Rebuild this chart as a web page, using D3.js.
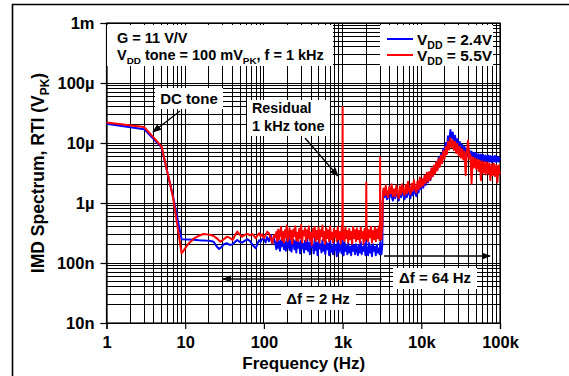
<!DOCTYPE html>
<html><head><meta charset="utf-8">
<script src="https://cdn.jsdelivr.net/npm/d3@7"></script>
<style>
html,body{margin:0;padding:0;background:#fff;}
svg text{font-family:"Liberation Sans",Arial,Helvetica,sans-serif;font-weight:bold;fill:#000;}
</style></head>
<body>
<svg id="c" width="569" height="376"></svg>
<script>
// ---------- DATA ----------
const xTickValues = [1, 10, 100, 1e3, 1e4, 1e5];
const xTickLabels = ["1", "10", "100", "1k", "10k", "100k"];
const yTickValues = [1e-8, 1e-7, 1e-6, 1e-5, 1e-4, 1e-3];
const yTickLabels = ["10n", "100n", "1µ", "10µ", "100µ", "1m"];
const seriesNames = ["2.4V", "5.5V"];
const seriesColors = ["#0000ff", "#ff0000"];

// low band (Hz, nV)
const lowFreqBlue = [1, 3, 5, 7, 9, 11, 13, 15, 17, 19, 21, 23, 25, 27, 29, 31, 34, 37, 40, 43, 46, 49, 53, 57, 62, 67, 72, 76, 79, 83, 87, 91, 95, 100, 105, 110, 116, 122, 128, 134];
const lowBlue_nV = [21000, 17000, 8500, 1300, 248, 246, 244, 240, 238, 236, 232, 226, 190, 171, 185, 205, 213, 200, 205, 225, 242, 225, 219, 235, 248, 230, 200, 185, 176, 210, 240, 226, 250, 258, 220, 270, 230, 293, 210, 260];
const lowFreqRed = [1, 3, 5, 7, 9, 11, 13, 15, 17, 19, 21, 23, 25, 28, 31, 34, 37, 40, 43, 46, 49, 53, 57, 62, 67, 71, 75, 79, 83, 87, 91, 95, 100, 105, 110, 116, 122, 128, 134];
const lowRed_nV = [22000, 18500, 8800, 1250, 145, 210, 258, 285, 304, 300, 292, 282, 260, 226, 250, 275, 262, 242, 290, 333, 300, 275, 295, 304, 290, 304, 280, 258, 290, 313, 280, 300, 258, 290, 330, 313, 260, 213, 290];

// mid band, 2 Hz resolution (Hz, nV)
const midFreqs = [140, 144, 148, 152, 156, 160, 165, 170, 175, 180,
  185, 190, 195, 200, 206, 212, 218, 224, 230, 237,
  244, 251, 258, 265, 273, 281, 289, 297, 306, 315,
  324, 333, 343, 353, 363, 373, 384, 395, 406, 418,
  430, 442, 455, 468, 481, 495, 509, 524, 539, 554,
  570, 586, 603, 620, 638, 656, 675, 694, 714, 734,
  755, 776, 798, 821, 844, 868, 893, 918, 944, 971,
  985, 995, 1000, 1005, 1015, 1030, 1060, 1090, 1120, 1150,
  1180, 1215, 1250, 1285, 1320, 1360, 1400, 1440, 1480, 1520,
  1565, 1610, 1655, 1700, 1750, 1800, 1850, 1900, 1950, 1985,
  2000, 2015, 2050, 2110, 2170, 2230, 2290, 2360, 2430, 2500,
  2570, 2640, 2720, 2800, 2880, 2950, 2985, 3000, 3015, 3060,
  3110, 3160, 3200];
const midBlue_nV = [210, 170, 250, 180, 230, 160, 240, 190, 270, 170,
  220, 160, 250, 180, 300, 165, 230, 155, 210, 245,
  170, 230, 150, 260, 180, 220, 145, 240, 175, 210,
  150, 235, 170, 280, 160, 215, 140, 230, 185, 200,
  145, 250, 165, 215, 135, 230, 175, 205, 150, 240,
  160, 195, 140, 225, 170, 210, 135, 240, 155, 190,
  140, 220, 165, 195, 130, 235, 150, 205, 175, 145,
  210, 170, 260, 150, 200, 135, 220, 160, 190, 140,
  215, 150, 185, 135, 230, 160, 195, 140, 205, 170,
  135, 200, 150, 225, 140, 185, 160, 210, 135, 195,
  230, 145, 180, 135, 215, 150, 190, 130, 205, 160,
  185, 135, 200, 150, 175, 140, 190, 220, 145, 185,
  140, 170, 205];
const midRed_nV = [270, 330, 230, 360, 250, 310, 400, 240, 330, 220,
  350, 270, 420, 230, 300, 380, 250, 340, 210, 360,
  280, 410, 240, 320, 230, 370, 260, 430, 220, 340,
  290, 380, 230, 350, 260, 410, 240, 320, 200, 370,
  270, 400, 230, 340, 250, 390, 220, 350, 280, 420,
  240, 330, 210, 380, 260, 350, 230, 410, 250, 320,
  220, 370, 270, 340, 230, 400, 250, 330, 210, 360,
  430, 280, 40000, 300, 250, 360, 230, 390, 260, 340,
  220, 370, 250, 330, 210, 400, 260, 350, 230, 380,
  250, 340, 220, 390, 260, 330, 210, 370, 240, 320,
  2200, 260, 380, 230, 350, 270, 400, 220, 340, 250,
  390, 230, 360, 260, 410, 240, 330, 5800, 280, 390,
  250, 370, 430];

// high band, 64 Hz resolution (Hz, µV)
const highFreqs = [3240, 3300, 3420, 3540, 3660, 3790, 3920, 4060, 4200, 4350, 4500, 4660, 4820, 4990, 5160, 5340, 5530, 5720, 5920, 6130, 6340, 6560, 6790, 7030, 7280, 7530, 7790, 8070, 8350, 8640, 8940, 9250, 9580, 9910, 10260, 10620, 10990, 11370, 11770, 12180, 12610, 13050, 13500, 13980, 14470, 14970, 15500, 16040, 16600, 17180, 17780, 18400, 19050, 19710, 20400, 21120, 21860, 22620, 23410, 24230, 25080, 25960, 26870, 27810, 28780, 29790, 30830, 31910, 33030, 34180, 35380, 36620, 37900, 39230, 40600, 42020, 43490, 45010, 46590, 48220, 49910, 51650, 53460, 55330, 57270, 59270, 61350, 63490, 65720, 68020, 70400, 72860, 75410, 78050, 80780, 83610, 86540, 89570, 92700, 95950, 99300];
const highBlue_uV = [1.05, 1.60, 1.25, 1.75, 1.15, 1.55, 1.20, 1.70, 1.30, 1.10,
  1.60, 1.20, 1.75, 1.30, 1.10, 1.65, 1.25, 1.80, 1.35, 1.15,
  1.70, 1.25, 1.85, 1.40, 1.20, 1.80, 1.35, 2.00, 1.45, 1.30,
  2.00, 1.50, 2.25, 1.70, 2.20, 1.80, 2.60, 2.00, 2.90, 2.20,
  3.20, 2.40, 3.60, 2.80, 4.10, 3.20, 4.80, 3.70, 5.60, 4.40,
  6.60, 5.10, 8.00, 6.30, 10.0, 7.80, 13.0, 10.2, 16.5, 12.0,
  15.0, 10.8, 13.2, 9.40, 11.6, 8.60, 10.4, 7.80, 9.40, 7.10,
  8.60, 6.60, 8.00, 6.10, 7.60, 5.90, 7.20, 5.60, 6.90, 5.40,
  6.70, 5.30, 6.50, 5.10, 6.40, 5.00, 6.30, 4.90, 6.20, 5.00,
  6.20, 4.90, 6.10, 4.80, 6.00, 4.90, 6.10, 4.80, 5.90, 4.90,
  5.80];
const highRed_uV = [1.15, 1.75, 1.35, 1.95, 1.40, 1.25, 1.85, 1.45, 2.05, 1.30,
  1.70, 1.30, 1.95, 1.45, 1.20, 1.90, 1.40, 2.05, 1.55, 1.35,
  2.00, 1.45, 2.25, 1.60, 1.40, 2.10, 1.60, 2.40, 1.70, 1.50,
  2.30, 1.70, 2.65, 1.85, 2.50, 1.95, 2.85, 2.15, 3.20, 2.30,
  3.30, 2.45, 3.80, 2.80, 4.20, 3.10, 4.80, 3.50, 5.40, 4.00,
  6.20, 4.60, 7.30, 5.50, 8.60, 6.50, 10.5, 7.80, 12.0, 8.60,
  11.0, 7.60, 10.4, 6.80, 9.60, 6.20, 8.60, 5.70, 7.90, 5.30,
  7.20, 2.90, 6.80, 11.0, 5.50, 6.40, 2.10, 5.80, 3.90, 5.50,
  3.70, 5.30, 3.40, 5.10, 2.40, 4.90, 3.20, 4.80, 3.00, 4.70,
  3.10, 4.60, 2.40, 4.40, 2.90, 4.50, 2.80, 4.30, 2.20, 4.20,
  3.00];

// ---------- BUILD ----------
function join(fl, vl, k) { return fl.map((f, i) => [f, vl[i] * k]); }
const blue = [].concat(join(lowFreqBlue, lowBlue_nV, 1e-9), join(midFreqs, midBlue_nV, 1e-9), join(highFreqs, highBlue_uV, 1e-6));
const red = [].concat(join(lowFreqRed, lowRed_nV, 1e-9), join(midFreqs, midRed_nV, 1e-9), join(highFreqs, highRed_uV, 1e-6));

const svg = d3.select("#c");
const L = 106.5, R = 500, T = 23, B = 323;
const x = d3.scaleLog().domain([1, 1e5]).range([L, R]);
const y = d3.scaleLog().domain([1e-8, 1e-3]).range([B, T]);

// outer frame
svg.append("path").attr("d", "M12.5,376 L12.5,4.5 L569,4.5").attr("fill", "none").attr("stroke", "#000").attr("stroke-width", 1.6);

// grid
const xg = [], yg = [];
for (let d = 0; d < 5; d++) for (let k = 1; k <= 9; k++) { xg.push(k * Math.pow(10, d)); yg.push(k * Math.pow(10, d - 8)); }
xg.push(1e5); yg.push(1e-3);
const grid = svg.append("g").attr("stroke", "#000").attr("stroke-width", 1).attr("shape-rendering", "crispEdges");
grid.selectAll(".gx").data(xg).join("line").attr("x1", d => x(d)).attr("x2", d => x(d)).attr("y1", T).attr("y2", B);
grid.selectAll(".gy").data(yg).join("line").attr("y1", d => y(d)).attr("y2", d => y(d)).attr("x1", L).attr("x2", R);

// axes
const xa = svg.append("g").attr("transform", `translate(0,${B})`)
  .call(d3.axisBottom(x).tickValues(xTickValues).tickFormat((d, i) => xTickLabels[i]).tickSize(6).tickPadding(8));
const ya = svg.append("g").attr("transform", `translate(${L},0)`)
  .call(d3.axisLeft(y).tickValues(yTickValues).tickFormat((d, i) => yTickLabels[i]).tickSize(6).tickPadding(6));
[xa, ya].forEach(a => {
  a.select(".domain").attr("stroke", "#000").attr("stroke-width", 1.2);
  a.selectAll(".tick line").attr("stroke", "#000").attr("stroke-width", 1.2);
  a.selectAll("text").attr("font-size", 16.5).attr("font-family", "Liberation Sans, Arial, sans-serif").attr("font-weight", "bold").attr("fill", "#000");
});
xa.selectAll("text").attr("dy", "0.68em");
ya.selectAll("text").attr("dy", "0.35em");
svg.append("rect").attr("x", L).attr("y", T).attr("width", R - L).attr("height", B - T).attr("fill", "none").attr("stroke", "#000").attr("stroke-width", 1.2);

// white annotation boxes
const boxes = [[107, 25, 226, 41], [380, 25, 113, 41], [155, 88, 68, 21], [247, 100, 83, 36], [281, 287, 75, 23], [393, 268, 84, 21]];
svg.selectAll(".box").data(boxes).join("rect").attr("x", d => d[0]).attr("y", d => d[1]).attr("width", d => d[2]).attr("height", d => d[3]).attr("fill", "#fff");

// arrows
const defs = svg.append("defs");
defs.append("marker").attr("id", "ah").attr("viewBox", "0 0 10 10").attr("refX", 9).attr("refY", 5)
  .attr("markerWidth", 7).attr("markerHeight", 7).attr("orient", "auto")
  .append("path").attr("d", "M0,1 L10,5 L0,9 z").attr("fill", "#000");
const arrows = [[180, 111, 153, 132], [305, 138, 338, 176], [382, 279, 223, 279], [384, 256, 490, 256]];
svg.selectAll(".arr").data(arrows).join("line").attr("x1", d => d[0]).attr("y1", d => d[1]).attr("x2", d => d[2]).attr("y2", d => d[3])
  .attr("stroke", "#000").attr("stroke-width", 1.3).attr("marker-end", "url(#ah)");

// series
const line = d3.line().x(d => x(d[0])).y(d => y(d[1]));
[blue, red].forEach((s, i) => {
  svg.append("path").datum(s).attr("d", line).attr("fill", "none").attr("stroke", seriesColors[i])
    .attr("stroke-width", 2).attr("stroke-linejoin", "round");
});

// texts
function richText(xp, yp, size, segs, anchor) {
  const t = svg.append("text").attr("x", xp).attr("y", yp).attr("font-size", size).attr("text-anchor", anchor || "start");
  let shift = 0;
  segs.forEach(s => {
    const sub = typeof s !== "string";
    const want = sub ? size * 0.27 : 0;
    t.append("tspan").attr("dy", want - shift).attr("font-size", sub ? size * 0.68 : size).text(sub ? s.sub : s);
    shift = want;
  });
  return t;
}
richText(117, 43, 14.5, ["G = 11 V/V"]);
richText(117, 60, 14.5, ["V", {sub: "DD"}, " tone = 100 mV", {sub: "PK"}, ", f = 1 kHz"]);
// legend
const legendY = [39, 55];
seriesNames.forEach((n, i) => {
  svg.append("line").attr("x1", 387).attr("x2", 413).attr("y1", legendY[i]).attr("y2", legendY[i]).attr("stroke", seriesColors[i]).attr("stroke-width", 2);
  richText(417, legendY[i] + 5.5, 15.5, ["V", {sub: "DD"}, " = " + n]);
});
richText(189, 103.5, 15, ["DC tone"], "middle");
richText(252, 113, 14.3, ["Residual"]);
richText(252, 131, 14.5, ["1 kHz tone"]);
richText(318, 304, 15, ["Δf = 2 Hz"], "middle");
richText(435, 283, 15, ["Δf = 64 Hz"], "middle");
// axis titles
richText((L + R) / 2 + 0.5, 369, 17, ["Frequency (Hz)"], "middle");
const yt = richText(0, 0, 17.5, ["IMD Spectrum, RTI (V", {sub: "PK"}, ")"], "middle");
yt.attr("transform", `translate(44,${(T + B) / 2}) rotate(-90)`);
</script>
</body></html>
